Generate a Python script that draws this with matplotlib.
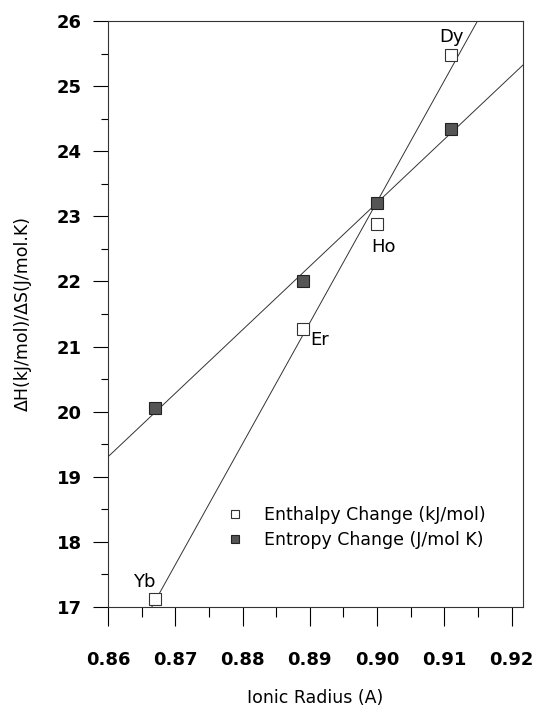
import numpy as np
import matplotlib.pyplot as plt
from matplotlib.ticker import MultipleLocator

plt.rcParams['font.family'] = ['DejaVu Sans']

# datos
radius = [0.867, 0.889, 0.900, 0.911]
elements = ['Yb', 'Er', 'Ho', 'Dy']
enthalpy = [17.13, 21.27, 22.88, 25.48]   # kJ/mol
entropy = [20.05, 22.01, 23.21, 24.34]    # J/mol K

fig = plt.figure(figsize=(5.33, 7.11), dpi=100)
ax = fig.add_axes([0.2026, 0.1463, 0.7786, 0.8242])

xlim = (0.86, 0.9217)
ylim = (17, 26)

# rectas de ajuste
xx = np.array(xlim)
for yy in (enthalpy, entropy):
    m, b = np.polyfit(radius, yy, 1)
    ax.plot(xx, m * xx + b, color='#333333', lw=0.7, zorder=1)

ax.plot(radius, enthalpy, 's', ms=8, mfc='white', mec='#333333', mew=0.8,
        ls='none', zorder=3, label='Enthalpy Change (kJ/mol)')
ax.plot(radius, entropy, 's', ms=8, mfc='#555555', mec='#222222', mew=0.8,
        ls='none', zorder=3, label='Entropy Change (J/mol K)')

# etiquetas de los elementos
offsets = {'Yb': (-0.0016, 0.26), 'Er': (0.0025, -0.17), 'Ho': (0.0009, -0.35), 'Dy': (0.0001, 0.28)}
for el, x, y in zip(elements, radius, enthalpy):
    dx, dy = offsets[el]
    ax.text(x + dx, y + dy, el, fontsize=13, ha='center', va='center')

ax.set_xlim(*xlim)
ax.set_ylim(*ylim)
ax.xaxis.set_major_locator(MultipleLocator(0.01))
ax.xaxis.set_minor_locator(MultipleLocator(0.005))
ax.yaxis.set_major_locator(MultipleLocator(1))
ax.yaxis.set_minor_locator(MultipleLocator(0.5))
ax.set_xticks(np.arange(0.86, 0.9201, 0.01))
ax.set_xticklabels(['0.86', '0.87', '0.88', '0.89', '0.90', '0.91', '0.92'])

ax.tick_params(axis='x', which='major', direction='out', length=14, width=0.8,
               pad=18, labelsize=13)
ax.tick_params(axis='x', which='minor', direction='out', length=7, width=0.8)
ax.tick_params(axis='y', which='major', direction='out', length=11, width=0.8,
               pad=8, labelsize=13)
ax.tick_params(axis='y', which='minor', direction='out', length=5, width=0.8)
for lab in ax.get_xticklabels() + ax.get_yticklabels():
    lab.set_fontweight('bold')
for s in ax.spines.values():
    s.set_linewidth(0.8)
    s.set_color('#333333')

ax.set_xlabel('Ionic Radius (A)', fontsize=12.5, labelpad=14)
ax.set_ylabel('ΔH(kJ/mol)/ΔS(J/mol.K)', fontsize=12.5, labelpad=18)

ax.legend(loc='upper left', bbox_to_anchor=(0.284, 0.173), frameon=False,
          fontsize=12.5, markerscale=0.7, handlelength=1.0, handletextpad=1.2,
          labelspacing=0.42, borderaxespad=0, borderpad=0)

fig.savefig('out.png', dpi=100)
